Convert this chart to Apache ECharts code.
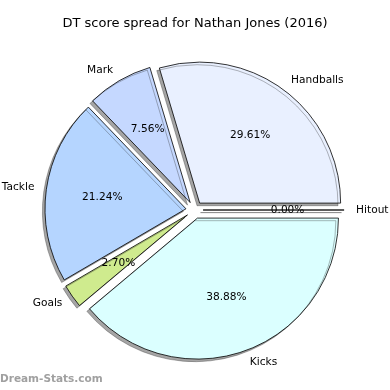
<!DOCTYPE html>
<html>
<head>
<meta charset="utf-8">
<script src="https://cdn.jsdelivr.net/npm/echarts@6/dist/echarts.min.js"></script>
<style>html,body{margin:0;padding:0;background:#fff}#c{width:390px;height:390px}</style>
</head>
<body>
<div id="c"></div>
<script>
var categories = ['Handballs', 'Mark', 'Tackle', 'Goals', 'Kicks', 'Hitout'];
var percents = [29.61, 7.56, 21.24, 2.70, 38.88, 0.00];
var colors = ['#e9f0ff', '#c5d8ff', '#b5d5ff', '#cfeb8e', '#dbffff', '#ffffff'];
var titleText = 'DT score spread for Nathan Jones (2016)';
var watermark = 'Dream-Stats.com';

var FONT = 'DejaVu Sans';
var CENTER = [194.5, 210];
var R = 141;
var OFFSET = 8.6;

var mainData = categories.map(function (c, i) {
  return { name: c, value: percents[i], selected: true, itemStyle: { color: colors[i] } };
});
var labelData = categories.map(function (c, i) {
  return { name: c, value: percents[i], selected: true };
});

var chart = echarts.init(document.getElementById('c'), null, { renderer: 'canvas' });
chart.setOption({
  animation: false,
  backgroundColor: '#ffffff',
  title: {
    text: titleText, left: 'center', top: 12,
    textStyle: { fontFamily: FONT, fontSize: 13, fontWeight: 'normal', color: '#000' }
  },
  graphic: [{
    type: 'text', left: 0, top: 374,
    style: { text: watermark, font: 'bold 10.5px "DejaVu Sans"', fill: '#a0a0a0' }
  }],
  series: [{
    type: 'pie',
    center: CENTER, radius: [0, R],
    startAngle: 0, clockwise: false,
    selectedMode: 'multiple', selectedOffset: OFFSET,
    avoidLabelOverlap: false,
    minShowLabelAngle: 0,
    silent: true,
    emphasis: { disabled: true },
    itemStyle: {
      borderColor: '#000', borderWidth: 0.8,
      shadowColor: 'rgba(30,30,30,0.4)', shadowOffsetX: -2.6, shadowOffsetY: 2.6, shadowBlur: 0
    },
    label: {
      show: true, position: 'outside', formatter: '{b}', offset: [0, 1.5],
      fontFamily: FONT, fontSize: 10.6, color: '#000', distanceToLabelLine: 0
    },
    labelLine: { show: false, length: 12, length2: 0 },
    data: mainData
  }, {
    type: 'pie',
    center: CENTER, radius: [22, R],
    startAngle: 0, clockwise: false,
    selectedMode: 'multiple', selectedOffset: OFFSET,
    avoidLabelOverlap: false,
    silent: true,
    emphasis: { disabled: true },
    itemStyle: { color: 'rgba(0,0,0,0)', borderWidth: 0 },
    label: {
      show: true, position: 'inside', offset: [0, 1.5],
      formatter: function (p) { return p.value.toFixed(2) + '%'; },
      fontFamily: FONT, fontSize: 10.6, color: '#000'
    },
    labelLine: { show: false },
    data: labelData
  }]
});
</script>
</body>
</html>
